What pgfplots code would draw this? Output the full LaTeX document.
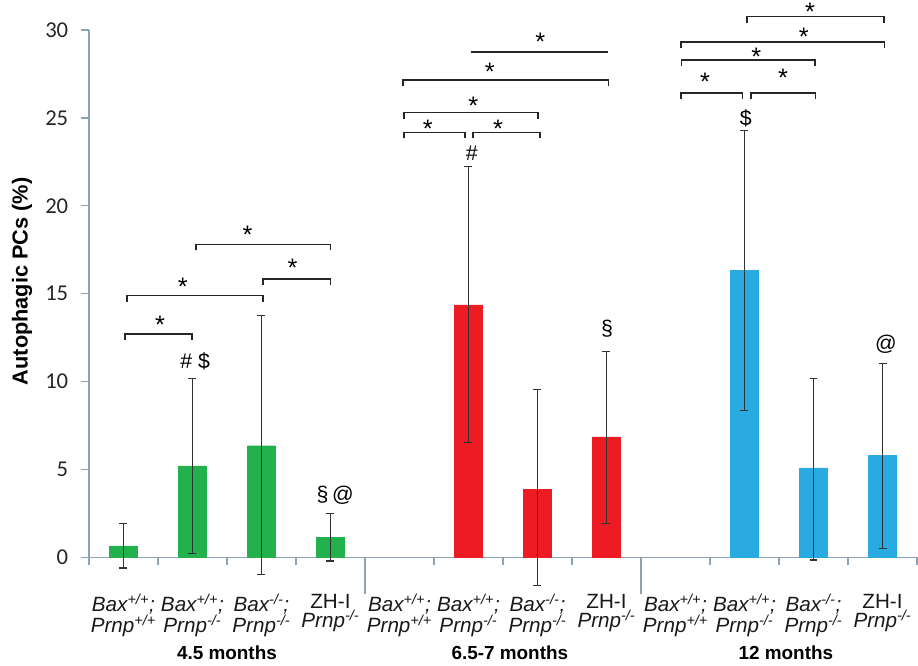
\documentclass[border=0pt]{standalone}
\usepackage{pgfplots}
\pgfplotsset{compat=1.18}
\usepackage{fontspec}
\setmainfont{Liberation Sans}
\newfontfamily\carlito{Carlito}
\definecolor{axiscol}{RGB}{140,162,182}
\definecolor{bargreen}{RGB}{34,177,76}
\definecolor{barred}{RGB}{237,28,36}
\definecolor{barblue}{RGB}{41,171,226}
\definecolor{errcol}{RGB}{50,50,50}
\tikzset{
  sigbr/.style={line width=1.2pt, draw=black!85},
  sigst/.style={font=\fontsize{19}{19}\selectfont, anchor=base, inner sep=0pt, yshift=-10.5pt},
  sigsym/.style={font=\fontsize{16}{16}\selectfont, inner sep=0pt},
}
\pgfplotsset{
  errstyle/.style={error bars/.cd, y dir=both, y explicit, error mark=-,
    error bar style={line width=0.9pt, draw=errcol, solid},
    error mark options={rotate=90, line width=0.9pt, draw=errcol, solid, mark size=3pt}},
}
\newcommand{\LabA}{\textit{Bax\textsuperscript{+/+};}\\\textit{Prnp\textsuperscript{+/+}}}
\newcommand{\LabB}{\textit{Bax\textsuperscript{+/+};}\\\textit{Prnp\textsuperscript{-/-}}}
\newcommand{\LabC}{\textit{Bax\textsuperscript{-/-};}\\\textit{Prnp\textsuperscript{-/-}}}
\newcommand{\LabD}{ZH-I\\\textit{Prnp\textsuperscript{-/-}}}
\begin{document}
\begin{tikzpicture}
\begin{axis}[
  scale only axis, width=621.75pt, height=396pt,
  xmin=-0.5, xmax=11.5, ymin=0, ymax=30,
  clip=false,
  axis x line=bottom, axis y line=left,
  axis line style={-, draw=axiscol, line width=1pt},
  ytick={0,5,...,30},
  yticklabel style={font=\carlito\fontsize{17}{17}\selectfont, text=black!85, xshift=-6pt},
  /pgf/number format/assume math mode=true,
  xtick={-0.5,0.5,...,11.5},
  x tick label as interval,
  xticklabels={{\LabA},{\LabB},{\LabC},{\LabD},{\LabA},{\LabB},{\LabC},{\LabD},{\LabA},{\LabB},{\LabC},{\LabD}},
  xticklabel style={align=center, font=\fontsize{15.5}{14.25}\selectfont, text=black!90, yshift=-18pt},
  tick align=outside,
  major tick length=6pt,
  every tick/.style={draw=axiscol, line width=1pt},
  ybar, bar width=21pt,
]
\addplot[fill=bargreen, draw=bargreen, line width=0.1pt, bar shift=0pt, errstyle]
  coordinates {
  (0,0.65) += (0,1.28) -= (0,1.25)
  (1,5.20) += (0,4.99) -= (0,4.99)
  (2,6.36) += (0,7.39) -= (0,7.35)
  (3,1.15) += (0,1.33) -= (0,1.36)
  };
\addplot[fill=barred, draw=barred, line width=0.1pt, bar shift=0pt, errstyle]
  coordinates {
  (5,14.37) += (0,7.87) -= (0,7.85)
  (6,3.86) += (0,5.69) -= (0,5.46)
  (7,6.86) += (0,4.83) -= (0,4.93)
  };
\addplot[fill=barblue, draw=barblue, line width=0.1pt, bar shift=0pt, errstyle]
  coordinates {
  (9,16.32) += (0,7.94) -= (0,7.97)
  (10,5.09) += (0,5.08) -= (0,5.24)
  (11,5.80) += (0,5.22) -= (0,5.29)
  };
% group separators
\draw[draw=axiscol, line width=1pt] (axis cs:3.5,0) -- ([yshift=-27.75pt]axis cs:3.5,0);
\draw[draw=axiscol, line width=1pt] (axis cs:7.5,0) -- ([yshift=-27.75pt]axis cs:7.5,0);
% significance brackets: 4.5 months
\draw[sigbr] ([yshift=-4.5pt]axis cs:0.02,12.7) -- (axis cs:0.02,12.7) -- (axis cs:0.99,12.7) -- ([yshift=-4.5pt]axis cs:0.99,12.7);
\node[sigst] at (axis cs:0.53,13.52) {*};
\draw[sigbr] ([yshift=-4.5pt]axis cs:0.05,14.89) -- (axis cs:0.05,14.89) -- (axis cs:2.02,14.89) -- ([yshift=-4.5pt]axis cs:2.02,14.89);
\node[sigst] at (axis cs:0.86,15.7) {*};
\draw[sigbr] ([yshift=-4.5pt]axis cs:2.02,15.83) -- (axis cs:2.02,15.83) -- (axis cs:3.0,15.83) -- ([yshift=-4.5pt]axis cs:3.0,15.83);
\node[sigst] at (axis cs:2.45,16.78) {*};
\draw[sigbr] ([yshift=-4.5pt]axis cs:1.05,17.8) -- (axis cs:1.05,17.8) -- (axis cs:3.0,17.8) -- ([yshift=-4.5pt]axis cs:3.0,17.8);
\node[sigst] at (axis cs:1.80,18.64) {*};
% 6.5-7 months
\draw[sigbr] ([yshift=-4.5pt]axis cs:4.07,24.17) -- (axis cs:4.07,24.17) -- (axis cs:4.95,24.17) -- ([yshift=-4.5pt]axis cs:4.95,24.17);
\node[sigst] at (axis cs:4.41,24.7) {*};
\draw[sigbr] ([yshift=-4.5pt]axis cs:5.07,24.17) -- (axis cs:5.07,24.17) -- (axis cs:6.04,24.17) -- ([yshift=-4.5pt]axis cs:6.04,24.17);
\node[sigst] at (axis cs:5.43,24.66) {*};
\draw[sigbr] ([yshift=-4.5pt]axis cs:4.07,25.3) -- (axis cs:4.07,25.3) -- (axis cs:6.01,25.3) -- ([yshift=-4.5pt]axis cs:6.01,25.3);
\node[sigst] at (axis cs:5.07,26.0) {*};
\draw[sigbr] ([yshift=-4.5pt]axis cs:4.05,27.16) -- (axis cs:4.05,27.16) -- (axis cs:7.03,27.16) -- ([yshift=-4.5pt]axis cs:7.03,27.16);
\node[sigst] at (axis cs:5.31,27.9) {*};
\draw[sigbr] (axis cs:5.03,28.73) -- (axis cs:7.02,28.73);
\node[sigst] at (axis cs:6.04,29.62) {*};
% 12 months
\draw[sigbr] ([yshift=-4.5pt]axis cs:8.08,26.4) -- (axis cs:8.08,26.4) -- (axis cs:8.97,26.4) -- ([yshift=-4.5pt]axis cs:8.97,26.4);
\node[sigst] at (axis cs:8.43,27.35) {*};
\draw[sigbr] ([yshift=-4.5pt]axis cs:9.09,26.4) -- (axis cs:9.09,26.4) -- (axis cs:10.03,26.4) -- ([yshift=-4.5pt]axis cs:10.03,26.4);
\node[sigst] at (axis cs:9.56,27.57) {*};
\draw[sigbr] ([yshift=-4.5pt]axis cs:8.09,28.28) -- (axis cs:8.09,28.28) -- (axis cs:10.02,28.28) -- ([yshift=-4.5pt]axis cs:10.02,28.28);
\node[sigst] at (axis cs:9.17,28.77) {*};
\draw[sigbr] ([yshift=-4.5pt]axis cs:8.08,29.3) -- (axis cs:8.08,29.3) -- (axis cs:11.03,29.3) -- ([yshift=-4.5pt]axis cs:11.03,29.3);
\node[sigst] at (axis cs:9.86,29.9) {*};
\draw[sigbr] ([yshift=-4.5pt]axis cs:9.04,30.76) -- (axis cs:9.04,30.76) -- (axis cs:11.02,30.76) -- ([yshift=-4.5pt]axis cs:11.02,30.76);
\node[sigst] at (axis cs:9.95,31.36) {*};
% other symbols
\node[sigsym] at (axis cs:1.04,11.15) {\# \$};
\node[sigsym] at (axis cs:3.07,3.52) {§\,@};
\node[sigsym] at (axis cs:5.05,22.99) {\#};
\node[sigsym] at (axis cs:7.01,12.99) {§};
\node[sigsym] at (axis cs:9.02,24.98) {\$};
\node[sigsym] at (axis cs:11.05,12.1) {@};
% group labels
\node[font=\bfseries\fontsize{14.2}{14}\selectfont] at ([yshift=-71.25pt]axis cs:1.5,0) {4.5 months};
\node[font=\bfseries\fontsize{14.2}{14}\selectfont] at ([yshift=-71.25pt]axis cs:5.6,0) {6.5-7 months};
\node[font=\bfseries\fontsize{14.2}{14}\selectfont] at ([yshift=-71.25pt]axis cs:9.6,0) {12 months};
% y label
\node[rotate=90, font=\bfseries\fontsize{16.3}{16}\selectfont] at ([xshift=-50.25pt]axis cs:-0.5,15.7) {Autophagic PCs (\%)};
\end{axis}
\useasboundingbox (-66.75pt,-81pt) rectangle (622.5pt,418.5pt);
\end{tikzpicture}
\end{document}
